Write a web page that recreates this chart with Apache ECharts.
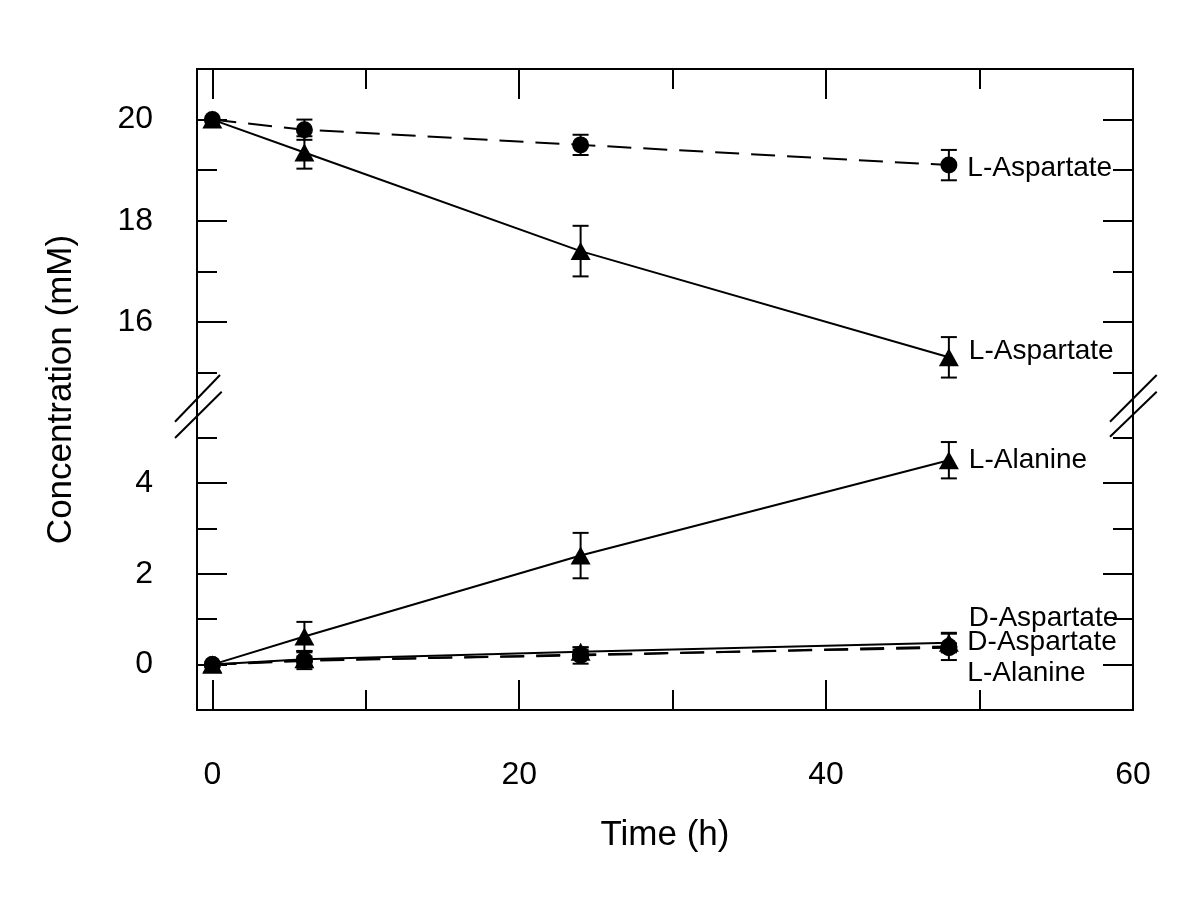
<!DOCTYPE html>
<html>
<head>
<meta charset="utf-8">
<script src="https://cdn.jsdelivr.net/npm/echarts@6/dist/echarts.min.js"></script>
<style>html,body{margin:0;padding:0;background:#fff;}#c{width:1200px;height:909px;}</style>
</head>
<body>
<div id="c"></div>
<script>
// ---- data ----
const times = [0, 6, 24, 48];
// upper panel
const aspCircle = [20, 19.8, 19.5, 19.1];      // L-Aspartate (circles, dashed)
const aspCircleErr = [0, 0.2, 0.2, 0.3];
const aspTri = [20, 19.35, 17.4, 15.3];        // L-Aspartate (triangles, solid)
const aspTriErr = [0, 0.32, 0.5, 0.4];
// lower panel
const alaTri = [0, 0.62, 2.4, 4.5];            // L-Alanine (triangles, solid)
const alaTriErr = [0, 0.32, 0.5, 0.4];
const dAspTri = [0, 0.12, 0.28, 0.48];         // D-Aspartate (triangles, solid)
const dAspTriErr = [0, 0.15, 0.1, 0.2];
const dAspCircle = [0, 0.1, 0.2, 0.4];         // D-Aspartate (circles, dashed)
const dAspCircleErr = [0, 0.2, 0.18, 0.3];
const alaCircle = [0, 0.08, 0.22, 0.37];       // L-Alanine (circles, dashed)
const alaCircleErr = [0, 0.1, 0.1, 0.1];

const xMajorTicks = [0, 20, 40, 60];
const xMinorTicks = [10, 30, 50];
const yUpperTicks = [15, 16, 17, 18, 19, 20, 21];
const yUpperMajor = [16, 18, 20];
const yLowerTicks = [-1, 0, 1, 2, 3, 4, 5];
const yLowerMajor = [0, 2, 4];
const xMin = -1, xMax = 60;

// ---- layout ----
const FONT = '"Liberation Sans", Arial, Helvetica, sans-serif';
const L = 197, R = 1200 - 1133, T = 69, B = 909 - 710;
const upperH = 303.5, lowerTop = 437.5;

const xCats = [];
for (let v = xMin; v <= xMax; v++) xCats.push(String(v));

function isIn(arr) { return (i, v) => arr.includes(+v); }

function decoX(grid, pos, arr, len, labels) {
  return {
    type: 'category', gridIndex: grid, position: pos, data: xCats, boundaryGap: false,
    axisLine: {show: false, onZero: false},
    axisTick: {show: true, inside: true, length: len, interval: isIn(arr), lineStyle: {color: '#000', width: 2}},
    axisLabel: {show: !!labels, interval: isIn(arr), margin: 49, fontSize: 32, color: '#000', fontFamily: FONT},
    splitLine: {show: false}
  };
}
function valueX(grid) {
  return {type: 'value', gridIndex: grid, min: xMin, max: xMax, show: false, axisLine: {onZero: false}};
}
function minorY(grid, pos, mn, mx) {
  return {
    type: 'value', gridIndex: grid, position: pos, min: mn, max: mx, interval: 1,
    axisLine: {show: false, onZero: false},
    axisTick: {show: true, inside: true, length: 20, lineStyle: {color: '#000', width: 2}},
    axisLabel: {show: false}, splitLine: {show: false}
  };
}
function majorY(grid, pos, cats, major, labels) {
  return {
    type: 'category', gridIndex: grid, position: pos, data: cats.map(String), boundaryGap: false,
    axisLine: {show: false, onZero: false},
    axisTick: {show: true, inside: true, length: 30, interval: isIn(major), lineStyle: {color: '#000', width: 2}},
    axisLabel: {show: !!labels, interval: isIn(major), margin: 44, fontSize: 32, color: '#000', fontFamily: FONT},
    splitLine: {show: false}
  };
}

function pairs(vals) { return times.map((t, i) => [t, vals[i]]); }
function errData(vals, errs) { return times.map((t, i) => [t, vals[i] - errs[i], vals[i] + errs[i]]); }

function errRender(params, api) {
  const x = api.value(0), lo = api.value(1), hi = api.value(2);
  if (!(hi - lo > 0)) return {type: 'group', children: []};
  const top = api.coord([x, hi]), bot = api.coord([x, lo]);
  const w = 8;
  const style = {stroke: '#000', lineWidth: 2, fill: null};
  return {type: 'group', children: [
    {type: 'line', shape: {x1: top[0], y1: top[1], x2: bot[0], y2: bot[1]}, style: style},
    {type: 'line', shape: {x1: top[0] - w, y1: top[1], x2: top[0] + w, y2: top[1]}, style: style},
    {type: 'line', shape: {x1: bot[0] - w, y1: bot[1], x2: bot[0] + w, y2: bot[1]}, style: style}
  ]};
}

function lineSeries(name, vals, xi, yi, sym, dashed, dy) {
  const last = vals.length - 1;
  return {
    type: 'line', name: name, xAxisIndex: xi, yAxisIndex: yi, data: pairs(vals),
    symbol: sym, symbolSize: sym === 'circle' ? 17 : [20, 18],
    itemStyle: {color: '#000'},
    lineStyle: {color: '#000', width: 2, type: dashed ? [24, 12] : 'solid'},
    label: {
      show: true, position: 'right', distance: 10, offset: [0, dy],
      formatter: p => p.dataIndex === last ? name : '',
      fontSize: 28, color: '#000', fontFamily: FONT
    },
    z: 3, animation: false
  };
}
function errSeries(vals, errs, xi, yi) {
  return {
    type: 'custom', xAxisIndex: xi, yAxisIndex: yi, data: errData(vals, errs),
    encode: {x: 0, y: [1, 2]}, renderItem: errRender, z: 2, animation: false, silent: true
  };
}

const option = {
  backgroundColor: '#fff',
  animation: false,
  grid: [
    {left: L, right: R, top: T, height: upperH},
    {left: L, right: R, top: lowerTop, bottom: B},
    {left: L, right: R, top: T, bottom: B, show: true, borderColor: '#000', borderWidth: 2, backgroundColor: 'transparent', z: 5}
  ],
  xAxis: [
    valueX(0),                                   // 0
    decoX(0, 'top', xMajorTicks, 30, false),      // 1
    decoX(0, 'top', xMinorTicks, 20, false),      // 2
    valueX(1),                                   // 3
    decoX(1, 'bottom', xMajorTicks, 30, true),    // 4
    decoX(1, 'bottom', xMinorTicks, 20, false),   // 5
    {type: 'value', gridIndex: 2, min: xMin, max: xMax, axisLine: {show: false, onZero: false}, axisTick: {show: false},
     axisLabel: {show: false}, splitLine: {show: false},
     name: 'Time (h)', nameLocation: 'middle', nameGap: 108,
     nameTextStyle: {fontSize: 35, color: '#000', fontFamily: FONT}} // 6
  ],
  yAxis: [
    minorY(0, 'left', 15, 21),                    // 0
    minorY(0, 'right', 15, 21),                   // 1
    majorY(0, 'left', yUpperTicks, yUpperMajor, true),  // 2
    majorY(0, 'right', yUpperTicks, yUpperMajor, false),// 3
    minorY(1, 'left', -1, 5),                     // 4
    minorY(1, 'right', -1, 5),                    // 5
    majorY(1, 'left', yLowerTicks, yLowerMajor, true),  // 6
    majorY(1, 'right', yLowerTicks, yLowerMajor, false),// 7
    {type: 'value', gridIndex: 2, min: 0, max: 1, axisLine: {show: false, onZero: false}, axisTick: {show: false},
     axisLabel: {show: false}, splitLine: {show: false},
     name: 'Concentration (mM)', nameLocation: 'middle', nameGap: 118,
     nameTextStyle: {fontSize: 35, color: '#000', fontFamily: FONT}} // 8
  ],
  series: [
    errSeries(aspCircle, aspCircleErr, 0, 0),
    errSeries(aspTri, aspTriErr, 0, 0),
    lineSeries('L-Aspartate', aspCircle, 0, 0, 'circle', true, 3),
    lineSeries('L-Aspartate', aspTri, 0, 0, 'triangle', false, -6),
    errSeries(alaTri, alaTriErr, 3, 4),
    errSeries(dAspTri, dAspTriErr, 3, 4),
    errSeries(dAspCircle, dAspCircleErr, 3, 4),
    errSeries(alaCircle, alaCircleErr, 3, 4),
    lineSeries('L-Alanine', alaTri, 3, 4, 'triangle', false, 0),
    lineSeries('D-Aspartate', dAspTri, 3, 4, 'triangle', false, -25),
    lineSeries('D-Aspartate', dAspCircle, 3, 4, 'circle', true, -4),
    lineSeries('L-Alanine', alaCircle, 3, 4, 'circle', true, 26)
  ],
  graphic: [
    {type: 'line', shape: {x1: 175, y1: 421.7, x2: 220, y2: 375}, style: {stroke: '#000', lineWidth: 2}, z: 10},
    {type: 'line', shape: {x1: 175, y1: 438, x2: 221.7, y2: 391.7}, style: {stroke: '#000', lineWidth: 2}, z: 10},
    {type: 'line', shape: {x1: 1110, y1: 421.7, x2: 1156.7, y2: 375}, style: {stroke: '#000', lineWidth: 2}, z: 10},
    {type: 'line', shape: {x1: 1110, y1: 436.7, x2: 1156.7, y2: 391.7}, style: {stroke: '#000', lineWidth: 2}, z: 10}
  ]
};

const chart = echarts.init(document.getElementById('c'), null, {renderer: 'canvas'});
chart.setOption(option);
</script>
</body>
</html>
